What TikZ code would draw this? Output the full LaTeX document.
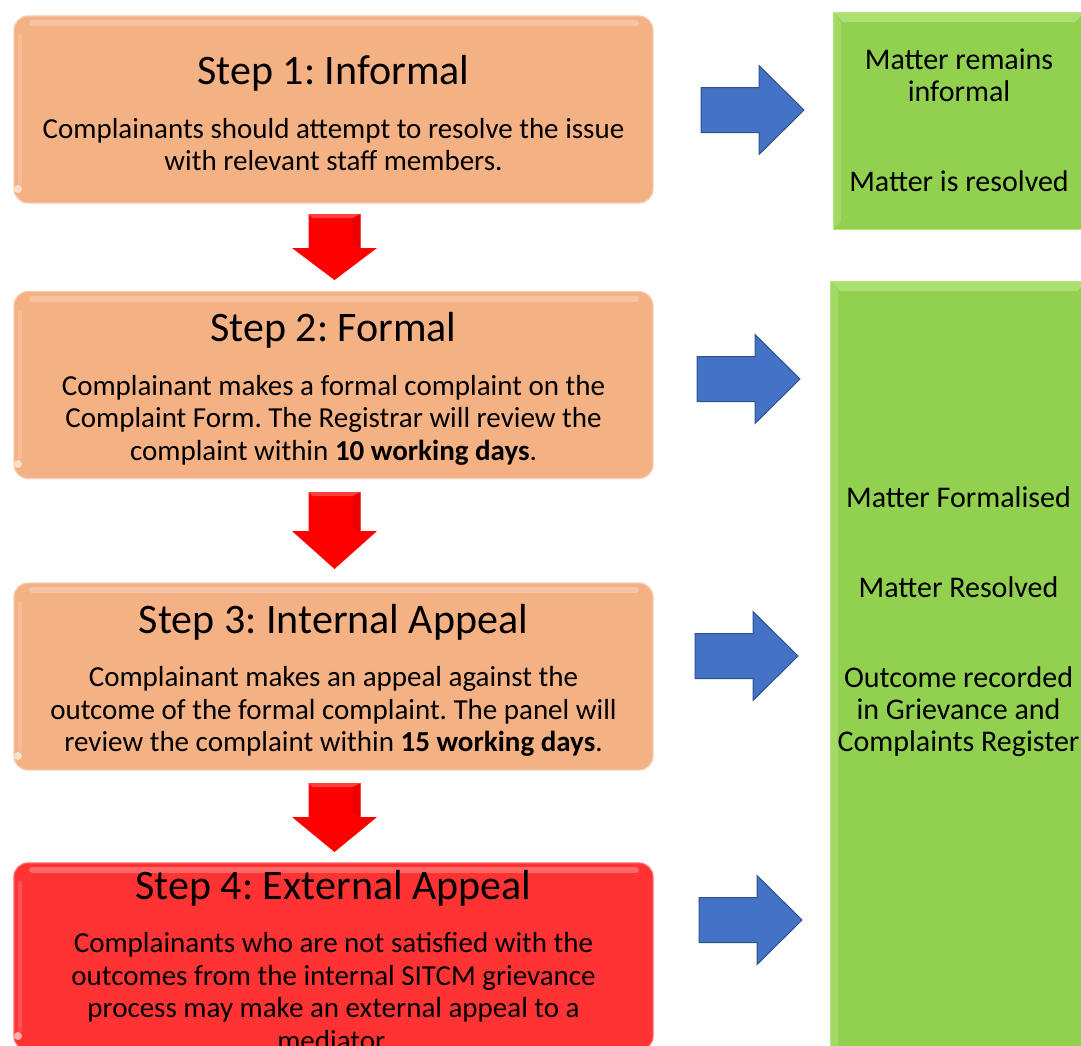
\documentclass[tikz,border=0pt]{standalone}
\usepackage{fontspec}
\setmainfont{Carlito}
\definecolor{orfill}{HTML}{F4B183}
\definecolor{oredge}{HTML}{F8CBAD}
\definecolor{redbox}{HTML}{FF3333}
\definecolor{grfill}{HTML}{92D050}
\definecolor{grlight}{HTML}{B4E47C}
\definecolor{blfill}{HTML}{4472C4}
\definecolor{bledge}{HTML}{2F528F}
\newcommand\sttitle[1]{{\fontsize{42}{44}\selectfont\centering\frenchspacing\spaceskip=0pt\xspaceskip=0pt #1\par}\vspace{21pt}}
\newcommand\stbody[1]{{\fontsize{29}{32.5}\selectfont\centering\frenchspacing\spaceskip=0pt\xspaceskip=0pt #1\par}}
\begin{document}
\begin{tikzpicture}[x=1pt,y=-1pt,
  stepbox/.style={draw=oredge, line width=1.2pt, fill=orfill, rounded corners=14pt,
    minimum width=639pt, minimum height=187pt, inner sep=0pt},
  steptext/.style={inner sep=0pt, text width=630pt, align=center, yshift=-4pt},
  greenbox/.style={draw=grlight, line width=1pt, fill=grfill, inner sep=0pt},
  gtext/.style={font=\fontsize{30}{32}\selectfont, align=center, inner sep=0pt},
  pics/downarr/.style n args={2}{code={
    \fill[red] (-26,0) -- (26,0) -- (26,#1) -- (42.5,#1) -- (0,{#1+#2}) -- (-42.5,#1) -- (-26,#1) -- cycle;
    \fill[red!80!black, opacity=.35] (18,2) -- (26,0) -- (26,#1) -- (18,{#1-4}) -- cycle;
    \fill[white, opacity=.25] (-26,0) -- (26,0) -- (18,4) -- (-22,4) -- cycle;
  }},
  pics/rightarr/.style={code={
    \draw[bledge, fill=blfill, line width=1pt, line join=miter]
      (0,-22.5) -- (58,-22.5) -- (58,-44.5) -- (103,0) -- (58,44.5) -- (58,22.5) -- (0,22.5) -- cycle;
  }}]
\useasboundingbox (0,0) rectangle (1081,1045);
\clip (0,0) rectangle (1081,1045);

% step boxes
\node[stepbox] (s1) at (333.5,109.5) {};
\node[stepbox] (s2) at (333.5,385) {};
\node[stepbox] (s3) at (333.5,676.5) {};
\node[stepbox, fill=redbox, draw=red!60!white] (s4) at (333.5,956.5) {};

% bevel highlights on step boxes
\foreach \t/\b in {16/203, 292/478, 583/770, 863/1050}{
  \draw[white, opacity=.25, line width=6pt, line cap=round] (32,\t+7) -- (636,\t+7);
  \draw[white, opacity=.15, line width=4pt, line cap=round] (20,\t+20) -- (20,\b-20);
  \fill[white, opacity=.6] (18,\b-14) circle (4pt);
}

% step texts
\node[steptext] (s1t) at (s1.center) {\sttitle{Step 1: Informal}\stbody{Complainants should attempt to resolve the issue\\with relevant staff members.}};
\node[steptext] (s2t) at (s2.center) {\sttitle{Step 2: Formal}\stbody{Complainant makes a formal complaint on the\\Complaint Form. The Registrar will review the\\complaint within \textbf{10 working days}.}};
\node[steptext] (s3t) at (s3.center) {\sttitle{Step 3: Internal Appeal}\stbody{Complainant makes an appeal against the\\outcome of the formal complaint. The panel will\\review the complaint within \textbf{15 working days}.}};
\node[steptext] (s4t) at (s4.center) {\sttitle{Step 4: External Appeal}\stbody{Complainants who are not satisfied with the\\outcomes from the internal SITCM grievance\\process may make an external appeal to a\\mediator.}};

% green outcome boxes
\node[greenbox, minimum width=252pt, minimum height=217pt] (g1) at (959,120.5) {};
\node[greenbox, minimum width=257pt, minimum height=820pt] (g2) at (958.5,691) {};
\foreach \l/\t/\r/\b in {833/12/1085/229, 830/281/1087/1101}{
  \fill[grlight, opacity=.8] (\l,\t) -- (\r,\t) -- (\r-10,\t+10) -- (\l+10,\t+10) -- cycle;
  \fill[grlight, opacity=.5] (\l,\t) -- (\l+8,\t+10) -- (\l+8,\b-8) -- (\l,\b) -- cycle;
}
\node[gtext] (g1t) at (959,120) {Matter remains\\informal\\[58pt]Matter is resolved};
\node[gtext] (g2t) at (958.5,622) {Matter Formalised\\[58pt]Matter Resolved\\[58pt]Outcome recorded\\in Grievance and\\Complaints Register};

% red down arrows between steps
\coordinate (r1) at (334.5,214);
\coordinate (r2) at (334.5,492);
\coordinate (r3) at (334.5,783);
\pic at (r1) {downarr={34}{32}};
\pic at (r2) {downarr={39}{38}};
\pic at (r3) {downarr={34}{35}};

% blue right arrows to outcomes
\coordinate (b1) at (701,110);
\coordinate (b2) at (697,379);
\coordinate (b3) at (695,656);
\coordinate (b4) at (699,920);
\pic at (b1) {rightarr};
\pic at (b2) {rightarr};
\pic at (b3) {rightarr};
\pic at (b4) {rightarr};
\end{tikzpicture}
\end{document}
